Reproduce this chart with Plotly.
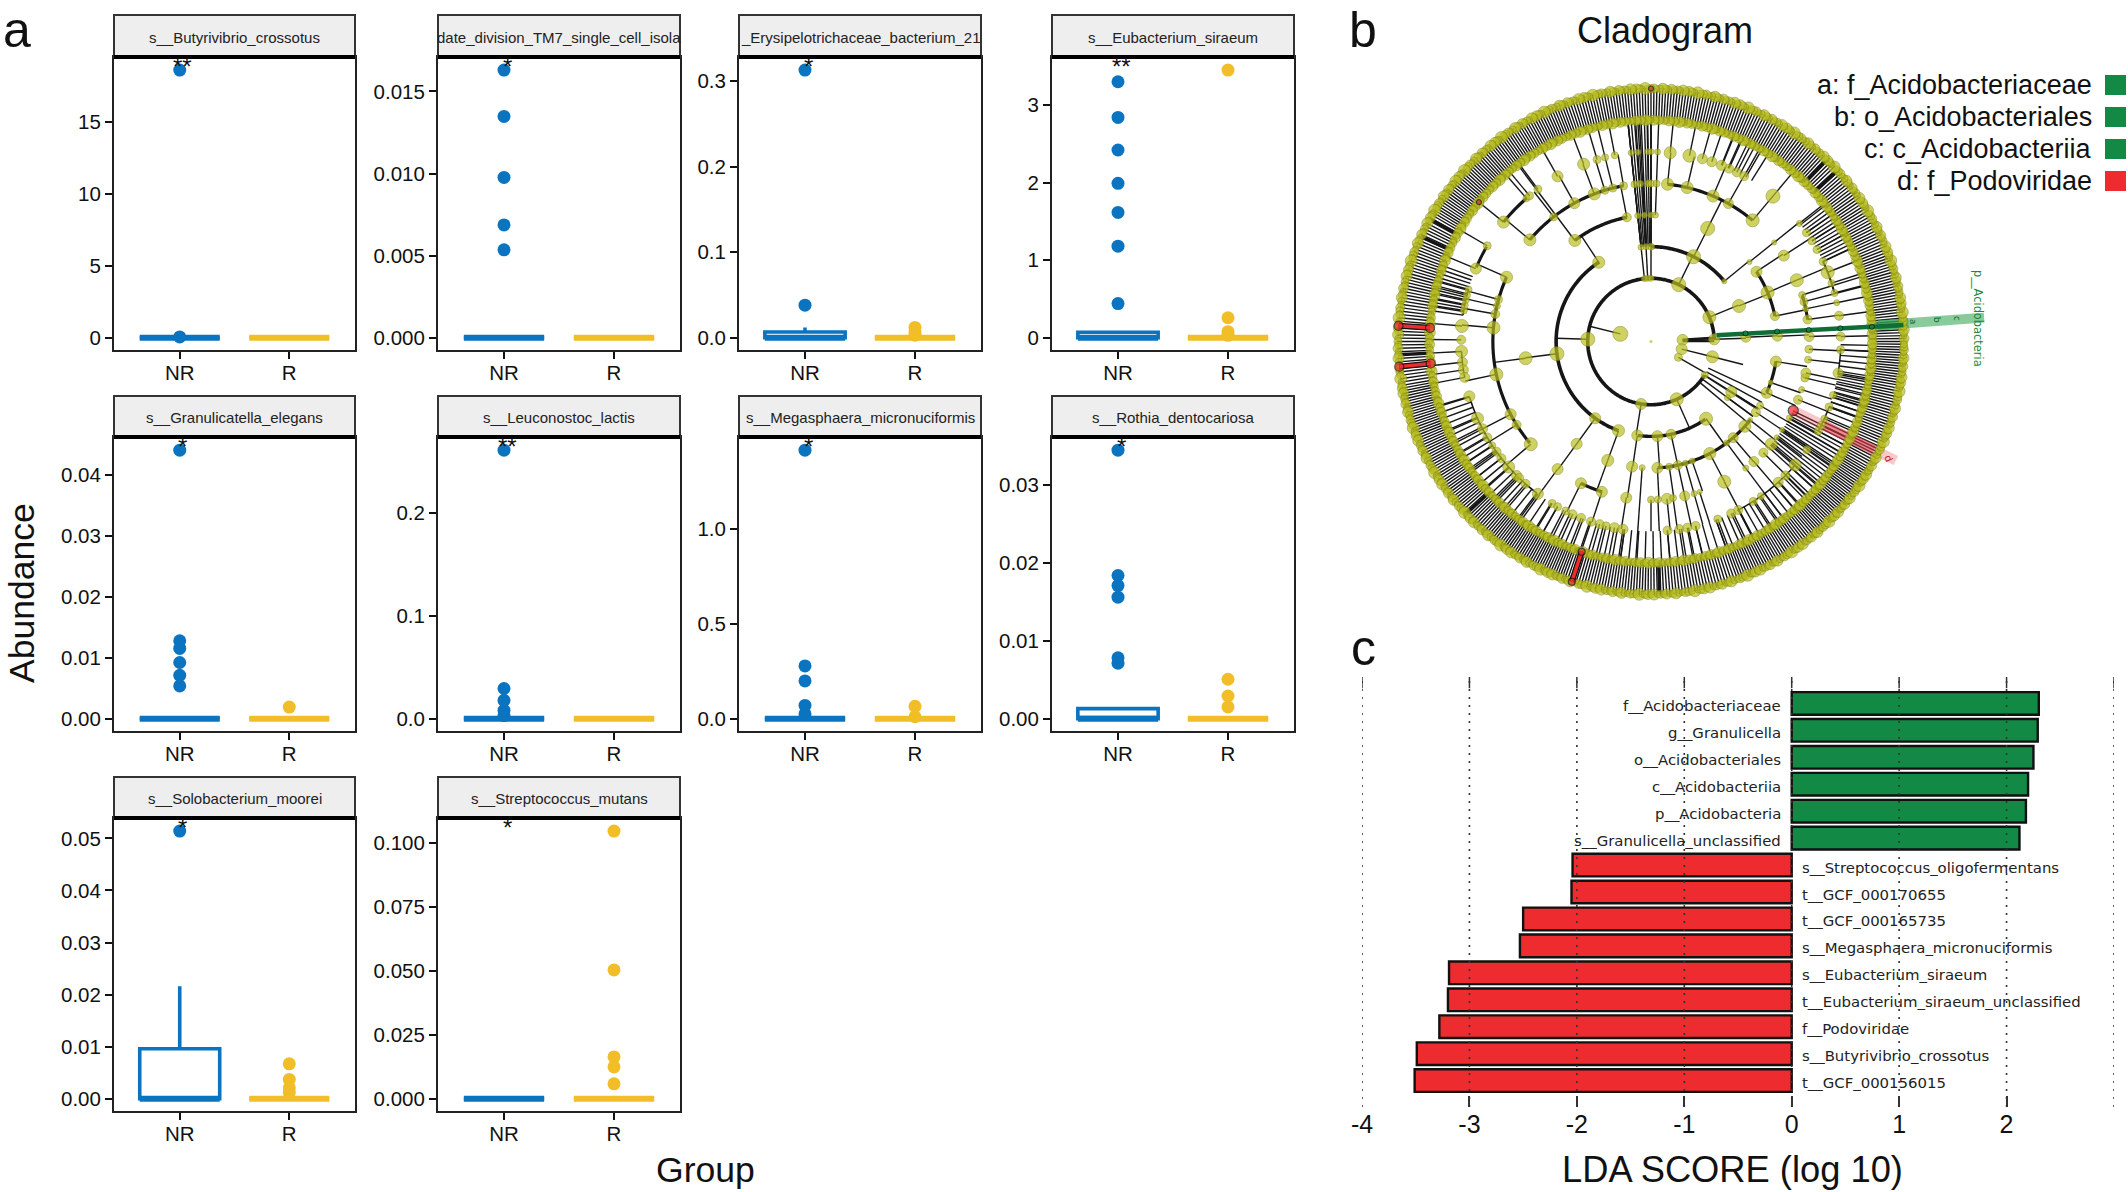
import numpy as np
import plotly.graph_objects as go

W, H = 2128, 1192
BLUE, YEL = "#0A74C0", "#F1BE28"
GREEN, RED = "#128A45", "#EE2B2E"
SANS = "Liberation Sans"

# ---------- panel a ----------
panel_names = ["s__Butyrivibrio_crossotus", "date_division_TM7_single_cell_isola",
               "_Erysipelotrichaceae_bacterium_21", "s__Eubacterium_siraeum",
               "s__Granulicatella_elegans", "s__Leuconostoc_lactis",
               "s__Megasphaera_micronuciformis", "s__Rothia_dentocariosa",
               "s__Solobacterium_moorei", "s__Streptococcus_mutans"]
panel_stars = ["**", "*", "*", "**", "*", "**", "*", "*", "*", "*"]
panel_max = [18.6, 0.0163, 0.313, 3.45, 0.044, 0.261, 1.416, 0.0344, 0.0514, 0.1045]
nr_points = [[18.6, 0.05],
             [0.0163, 0.01348, 0.00976, 0.00687, 0.00535],
             [0.313, 0.038],
             [3.30, 2.84, 2.42, 1.99, 1.615, 1.18, 0.44],
             [0.044, 0.01276, 0.0115, 0.0092, 0.0071, 0.00536],
             [0.261, 0.0293, 0.0178, 0.008, 0.003],
             [1.416, 0.278, 0.199, 0.07, 0.025],
             [0.0344, 0.01834, 0.01705, 0.01556, 0.0078, 0.0071],
             [0.0514],
             []]
r_points = [[], [], [0.012, 0.007, 0.003],
            [3.45, 0.257, 0.077, 0.03],
            [0.0019], [],
            [0.065, 0.01],
            [0.00505, 0.0029, 0.0015],
            [0.0067, 0.0037, 0.0021, 0.0012],
            [0.1045, 0.0503, 0.0163, 0.0124, 0.0058]]
nr_q3 = [0, 0, 0.0066, 0.07, 0, 0, 0, 0.00129, 0.0096, 0]
nr_upper = [0, 0, 0.012, 0.07, 0, 0, 0, 0.00129, 0.0216, 0]
tick_labels = [["0", "5", "10", "15"],
               ["0.000", "0.005", "0.010", "0.015"],
               ["0.0", "0.1", "0.2", "0.3"],
               ["0", "1", "2", "3"],
               ["0.00", "0.01", "0.02", "0.03", "0.04"],
               ["0.0", "0.1", "0.2"],
               ["0.0", "0.5", "1.0"],
               ["0.00", "0.01", "0.02", "0.03"],
               ["0.00", "0.01", "0.02", "0.03", "0.04", "0.05"],
               ["0.000", "0.025", "0.050", "0.075", "0.100"]]
groups = ["NR", "R"]
col_px = [(114, 355), (438, 680), (739, 981), (1052, 1294)]
row_px = [(15, 57, 350), (396, 437, 731), (777, 818, 1111)]

# ---------- panel c ----------
lda_labels = ["f__Acidobacteriaceae", "g__Granulicella", "o__Acidobacteriales", "c__Acidobacteriia",
              "p__Acidobacteria", "s__Granulicella_unclassified", "s__Streptococcus_oligofermentans",
              "t__GCF_000170655", "t__GCF_000165735", "s__Megasphaera_micronuciformis",
              "s__Eubacterium_siraeum", "t__Eubacterium_siraeum_unclassified", "f__Podoviridae",
              "s__Butyrivibrio_crossotus", "t__GCF_000156015"]
lda_values = [2.30, 2.29, 2.25, 2.20, 2.18, 2.12, -2.04, -2.05, -2.50, -2.53, -3.19, -3.20, -3.28, -3.49, -3.51]
lda_ticks = [-4, -3, -2, -1, 0, 1, 2, 3]
lda_tick_labels = ["-4", "-3", "-2", "-1", "0", "1", "2", ""]

# ---------- panel b: cladogram, (angle deg, marker size, ring reached by the outward stem) ----------
L1 = [(166, 14, 2), (3, 10, 2), (-14, 10, 2), (-30, 7, 2)]
L2 = [(178, 13, 3), (96, 5, 7), (93, 5, 7), (90, 5, 7), (261, 10, 3), (294, 12, 3), (328, 6, 4),
      (64, 13, 3), (22.6, 12, 3), (2, 10, 3), (-14, 11, 3)]
L3 = [(123.4, 11, 4), (187.4, 13, 4), (234, 10, 4), (250, 11, 4), (261.7, 10, 4), (273.9, 10, 4),
      (282.2, 9, 4), (305.5, 12, 4), (327.9, 10, 4), (323.7, 5, 4), (90, 6, 4), (93, 5, 4), (96, 5, 4),
      (63.3, 13, 4), (39.4, 4, 4), (22, 12, 4), (2.6, 9, 4)]
L4 = [(127, 11, 7), (101, 8, 5), (96, 5, 5), (93, 5, 5), (90, 5, 5), (88, 5, 5), (187.6, 12, 5), (234, 10, 5),
      (250, 11, 5), (261.4, 10, 5), (266, 5, 7), (272.9, 10, 5), (278.3, 6, 5), (282.3, 8, 5), (285.8, 5, 5),
      (289, 5, 5), (297.7, 11, 5), (306.7, 5, 5), (310.5, 9, 5), (317.9, 11, 5), (321.6, 4, 5), (326, 8, 7),
      (329.6, 6, 7), (336.1, 10, 5), (341.1, 4, 5), (350.9, 10, 5), (63.4, 13, 5), (38.9, 4, 5), (33.5, 10, 5),
      (22.8, 12, 5), (11.6, 8, 5), (2.4, 9, 5)]
L5 = [(140, 11, 6), (128, 7, 6), (119, 10, 6), (111, 11, 6), (107, 7, 6), (104, 7, 6), (100, 7, 6), (96, 6, 6),
      (94, 6, 6), (91, 6, 6), (156, 11, 6), (175, 12, 6), (170, 8, 6), (167, 6, 6), (164.6, 7, 6), (192, 12, 6),
      (207.4, 10, 6), (211.8, 8, 6), (220.5, 12, 6), (233.8, 10, 6), (243.7, 10, 6), (251.9, 10, 6), (261, 10, 6),
      (270, 6, 6), (272.5, 6, 6), (275.8, 10, 6), (278, 6, 6), (282.3, 9, 6), (285.8, 5, 6), (287.9, 4, 6),
      (297.6, 12, 7), (306.8, 5, 7), (310.6, 9, 7), (315.3, 8, 7), (319.5, 11, 6), (322.7, 4, 6), (326, 4, 6),
      (331.1, 5, 6), (338.4, 8, 6), (342.3, 5, 6), (346.7, 7, 6), (348.5, 9, 6), (353.4, 6, 6), (357.2, 7, 6),
      (84, 11, 6), (76.8, 11, 6), (66.9, 11, 6), (60.7, 9, 6), (50, 12, 6), (90, 6, 6), (88, 6, 6), (38.8, 4, 6),
      (32.9, 10, 6), (22.8, 12, 6), (17.1, 6, 7), (14.6, 7, 7), (11.9, 5, 6), (8, 8, 6), (1.8, 9, 6)]
L6_angles = [141, 131, 129.8, 126.6, 157.4, 149.7, 119.5, 110.8, 106.5, 104, 101, 96, 94, 91, 175.3, 179.5, 170.6,
             169, 167.3, 165.9, 164.1, 183, 186.3, 188.6, 190.9, 196.8, 203.9, 207.4, 210.4, 213.2, 215.5, 218,
             221.4, 224.9, 226, 228.6, 233.4, 238.6, 240.5, 243.3, 245.6, 248.4, 251.6, 254.3, 256.3, 258.9, 261.5,
             275, 278.6, 281, 283.6, 290.6, 295, 297.4, 302.6, 305.4, 312.1, 315.1, 319.4, 325.2, 331.8, 333.8,
             336, 339.8, 343.6, 350.4, 357.5, 1.5, 7.8, 11.8, 14.8, 17.9, 21.4, 24.9, 29, 32, 35, 38.5, 60.6, 63.1,
             65.7, 68.2, 71.3, 74.3, 78.3, 84.2, 88, 90, 50]
L6_sizes = [11, 6, 7, 7, 10, 7, 10, 11, 7, 6, 6, 5, 5, 5, 12, 8, 6, 6, 6, 6, 6, 11, 9, 9, 9, 10, 11, 9, 8, 6, 8, 8,
            11, 9, 8, 8, 10, 7, 7, 7, 8, 8, 8, 8, 7, 9, 9, 8, 8, 8, 8, 7, 8, 8, 7, 6, 9, 8, 11, 7, 7, 7, 6, 7, 6,
            9, 7, 8, 8, 5, 6, 6, 12, 7, 7, 7, 7, 5, 8, 8, 8, 9, 9, 9, 12, 11, 5, 5, 13]
arcs = [(2, 2, 328, 3.6), (3, 39, 90, 3.6), (3, 123, 250, 3.6), (3, 262, 305, 3.4), (4, 101, 127, 3.4),
        (4, 11.6, 33.5, 3.2), (4, 273, 322, 3.2), (4, 336, 351, 3.2), (5, 100, 140, 3.2), (5, 50, 84, 3.2),
        (5, 156, 220, 3.2), (5, 243.7, 252, 3.2), (5, 8, 17, 3), (6, 131, 141, 3.2), (6, 150, 157, 3),
        (6, 164, 172, 1.5), (6, 183, 191, 1.5), (6, 197, 233, 1.6), (6, 15, 25, 2), (6, 297, 319, 1.5),
        (6, 332, 340, 1.5), (6, 350, 358, 1.5), (7, 0, 360, 1.2), (8, 0, 360, 1.2)]
# bundles of stems: first angle, last angle, how many, from ring, to ring
stem_bundles = [(25, 38, 14, 6, 7), (160, 172, 12, 6, 7), (197, 215, 12, 6, 7), (216, 233, 10, 6, 7),
                (234, 262, 14, 6, 7), (90, 96, 8, 3, 7), (58, 68, 6, 6, 7), (335, 359, 16, 6, 7),
                (340, 350, 8, 6, 7), (318, 334, 16, 5, 7), (320, 335, 5, 2, 4), (290, 318, 16, 6, 7),
                (262, 290, 14, 6, 7), (0, 4, 4, 1, 2)]
# outer rings: first angle, last angle, how many leaves
leaf_spans = [(0, 20, 30), (20, 45, 36), (45, 70, 38), (70, 90, 30), (90, 110, 30), (110, 130, 32), (130, 150, 32),
              (150, 170, 28), (170, 190, 26), (190, 210, 32), (210, 230, 32), (230, 250, 34), (250, 270, 30),
              (270, 290, 28), (290, 310, 32), (310, 330, 34), (330, 350, 30), (350, 360, 16)]
ring7_sizes = [6, 9, 7, 10, 6, 8, 11, 6, 9, 7, 10, 6, 8]
ring8_sizes = [7, 10, 6, 8, 11, 7, 6, 9, 8, 7, 12, 6, 8, 10, 7, 11, 6, 8]
thick_spots = [(46, 7, 8), (42.5, 7, 8), (151, 7, 8), (155.5, 7, 8), (223, 7, 8), (272, 7, 8), (183, 7, 8)]
red_bars = [(176.45, 9), (185.7, 9), (251.75, 7)]
red_points = [(90, 8, 5), (141, 7, 5), (334.1, 5, 10)]
green_line_r, green_line_t = [0.26, 1.0], [5.5, 3.75]
green_nodes_l = [3, 4, 5, 6, 7]
green_nodes_t = [4.9, 4.5, 4.2, 4.0, 3.8]
legend_lines = ["a: f_Acidobacteriaceae", "b: o_Acidobacteriales", "c: c_Acidobacteriia", "d: f_Podoviridae"]
legend_cols = [GREEN, GREEN, GREEN, RED]

OLIVE, OLEDGE, INK = "#BABF1F", "#858B1C", "#161616"
fig = go.Figure()
shapes, notes = [], []
px = lambda v: v / W
py = lambda v: 1 - v / H


def text(x, y, s, size, color="#111", font=SANS, anchor="center", angle=0):
    notes.append(dict(xref="paper", yref="paper", x=px(x), y=py(y), text=s, showarrow=False, xanchor=anchor,
                      yanchor="middle", textangle=angle, font=dict(size=size, color=color, family=font)))


layout_axes = {}
for i, name in enumerate(panel_names):
    n = "" if i == 0 else str(i + 1)
    r_i, c_i = i // 4, i % 4
    x0, x1 = col_px[c_i]
    s0, s1, b = row_px[r_i]
    M = panel_max[i]
    vals = [float(t) for t in tick_labels[i]]
    xa, ya = f"x{n}", f"y{n}"
    layout_axes[f"xaxis{n}"] = dict(domain=[px(x0), px(x1)], anchor=ya, range=[0.4, 2.6], tickvals=[1, 2],
                                    ticktext=groups, ticks="outside", ticklen=7, tickwidth=2, tickcolor="#111",
                                    showline=True, mirror=True, linewidth=2, linecolor="#222", showgrid=False,
                                    zeroline=False, ticklabelstandoff=-4,
                                    tickfont=dict(size=20.5, family=SANS, color="#111"))
    layout_axes[f"yaxis{n}"] = dict(domain=[py(b), py(s1)], anchor=xa, range=[-0.046 * M, 1.049 * M], tickvals=vals,
                                    ticktext=tick_labels[i], ticks="outside", ticklen=7, tickwidth=2,
                                    tickcolor="#111", showline=True, mirror=True, linewidth=2, linecolor="#222",
                                    showgrid=False, zeroline=False, tickfont=dict(size=20.5, family=SANS, color="#111"))
    for g, col, q3, up, pts in ((1, BLUE, nr_q3[i], nr_upper[i], nr_points[i]), (2, YEL, 0, 0, r_points[i])):
        fig.add_trace(go.Box(x=[g], q1=[0], median=[0], q3=[q3], lowerfence=[0], upperfence=[up], width=0.73,
                             whiskerwidth=0, line=dict(color=col, width=3.6), fillcolor="white", boxpoints=False,
                             xaxis=xa, yaxis=ya, showlegend=False, hoverinfo="skip"))
        fig.add_trace(go.Scatter(x=[g - 0.365, g + 0.365], y=[0, 0], mode="lines", line=dict(color=col, width=6),
                                 xaxis=xa, yaxis=ya, showlegend=False, hoverinfo="skip"))
        if pts:
            fig.add_trace(go.Scatter(x=[g] * len(pts), y=pts, mode="markers", marker=dict(color=col, size=13),
                                     xaxis=xa, yaxis=ya, showlegend=False, hoverinfo="skip"))
    shapes.append(dict(type="rect", xref="paper", yref="paper", x0=px(x0), x1=px(x1), y0=py(s1), y1=py(s0),
                       fillcolor="#EEEEEE", line=dict(color="#333", width=2)))
    shapes.append(dict(type="line", xref="paper", yref="paper", x0=px(x0), x1=px(x1), y0=py(s1), y1=py(s1),
                       line=dict(color="#000", width=4)))
    text((x0 + x1) / 2, (s0 + s1) / 2 + 1, name, 15, "#222")
    notes.append(dict(xref=xa, yref=f"{ya} domain", x=1, xshift=3, y=0.967, text=panel_stars[i], showarrow=False,
                      xanchor="center", yanchor="middle", font=dict(size=24, family=SANS, color="#111")))

# ---------- LDA bars ----------
lda_y = list(range(len(lda_labels)))
lda_col = [GREEN if v > 0 else RED for v in lda_values]
fig.add_trace(go.Bar(y=lda_y, x=lda_values, orientation="h", width=0.84, marker=dict(color=lda_col,
              line=dict(color="#111", width=2.4)), xaxis="x11", yaxis="y11", showlegend=False, hoverinfo="skip"))
layout_axes["xaxis11"] = dict(domain=[px(1362), px(2114)], anchor="y11", range=[-4, 3], tickvals=lda_ticks,
                              ticktext=lda_tick_labels, ticks="inside", ticklen=11, tickwidth=1.5, tickcolor="#333",
                              showline=False, showgrid=False, zeroline=False,
                              tickfont=dict(size=25, family=SANS, color="#111"))
layout_axes["yaxis11"] = dict(domain=[py(1107), py(677)], anchor="x11", range=[14.98, -0.98], visible=False)
for t in lda_ticks:
    shapes.append(dict(type="line", xref="x11", yref="y11 domain", x0=t, x1=t, y0=0, y1=1, layer="above",
                       line=dict(color="#333", width=1.6, dash="2px,6px")))
    shapes.append(dict(type="line", xref="x11", yref="y11 domain", x0=t, x1=t, y0=0.974, y1=1, layer="above",
                       line=dict(color="#333", width=1.5)))
for lab, v, y in zip(lda_labels, lda_values, lda_y):
    notes.append(dict(xref="x11", yref="y11", x=0, y=y, yshift=-2.5, xshift=-9 if v > 0 else 8, text=lab,
                      showarrow=False, xanchor="right" if v > 0 else "left", yanchor="middle",
                      font=dict(size=14.9, family="DejaVu Sans", color="#222")))

# ---------- cladogram ----------
R = lambda level: level / 8
R_PX, CX, CY, R_MAX = 253, 1651, 341.5, 1.33


def polar_lines(segs, width, color=INK, opacity=1.0):
    rr, tt = [], []
    for a, b in segs:
        rr += list(a) + [None]
        tt += list(b) + [None]
    fig.add_trace(go.Scatterpolar(r=rr, theta=tt, mode="lines", line=dict(color=color, width=width), opacity=opacity,
                                  subplot="polar", showlegend=False, hoverinfo="skip"))


def polar_nodes(r, t, sizes, color=OLIVE, edge=OLEDGE, lw=0.8):
    fig.add_trace(go.Scatterpolar(r=r, theta=t, mode="markers", subplot="polar", showlegend=False, hoverinfo="skip",
                                  marker=dict(color=color, size=sizes, line=dict(color=edge, width=lw))))


leaf_angles = np.concatenate([np.linspace(a, b, n, endpoint=False) for a, b, n in leaf_spans])
L6 = [(a, s, 7) for a, s in zip(L6_angles, L6_sizes)]
levels = {1: L1, 2: L2, 3: L3, 4: L4, 5: L5, 6: L6}
stems = [([R(7), R(8)], [float(a), float(a)]) for a in leaf_angles]
stems += [([R(l), R(o)], [a, a]) for l, nodes in levels.items() for a, s, o in nodes]
stems += [([R(f), R(e)], [float(a), float(a)]) for a0, a1, n, f, e in stem_bundles for a in np.linspace(a0, a1, n)]
polar_lines(stems, 1.4)
for lev, a0, a1, w in arcs:
    th = np.linspace(a0, a1, max(int(abs(a1 - a0)), 2) + 1)
    polar_lines([([R(lev)] * len(th), [float(v) for v in th])], w)
polar_lines([([R(a), R(b)], [t, t]) for t, a, b in thick_spots], 3.4)

# highlight bands
polar_lines([([0.9, 1.32], [4.1, 4.1])], 10, "#3DAA5C", 0.6)
polar_lines([([0.875, 1.02], [4.0, 4.0])], 10, "#2F9E50", 0.55)
polar_lines([([R(5), 1.076], [334.1, 334.1])], 10, "#EE4B55", 0.3)
polar_lines([([0.76, 0.98], [334.1, 334.1])], 10, "#D92C3C", 0.4)

leaf_list = [float(a) for a in leaf_angles]
polar_nodes([R(8)] * len(leaf_list), leaf_list, [ring8_sizes[i % len(ring8_sizes)] for i in range(len(leaf_list))])
polar_nodes([R(7)] * len(leaf_list), leaf_list, [ring7_sizes[i % len(ring7_sizes)] for i in range(len(leaf_list))])
for lev, nodes in levels.items():
    polar_nodes([R(lev)] * len(nodes), [a for a, s, o in nodes], [s + 1 for a, s, o in nodes])
polar_nodes([0], [0], [3], OLIVE, OLIVE, 0)

polar_lines([(green_line_r, green_line_t)], 4.5, "#0E6E35")
polar_nodes([R(l) for l in green_nodes_l], green_nodes_t, [5] * 5, GREEN, "#111", 1)
for t, s in red_bars:
    polar_lines([([R(7), R(8)], [t, t])], 6, "#111")
    polar_lines([([R(7), R(8)], [t, t])], 3.5, RED)
    polar_nodes([R(7), R(8)], [t, t], [s, s], RED, "#111", 1.2)
for t, l, s in red_points:
    polar_nodes([R(l)], [t], [s], RED, "#111", 1.2)

# ---------- texts ----------
text(17, 30, "a", 50)
text(1363, 30, "b", 50)
text(1363, 648, "c", 50)
text(22, 593, "Abundance", 35.5, angle=-90)
text(705, 1170, "Group", 35.6)
text(1665, 30, "Cladogram", 36)
text(1732, 1169, "LDA SCORE (log 10)", 36.3)
for s, c, y in zip(legend_lines, legend_cols, [85, 117, 149, 181]):
    text(2094, y, s, 27, anchor="right")
    shapes.append(dict(type="rect", xref="paper", yref="paper", x0=px(2105), x1=px(2126), y0=py(y + 10), y1=py(y - 10),
                       fillcolor=c, line=dict(width=0)))
text(1978, 318, "p__Acidobacteria", 11.4, "#1B8A3C", "DejaVu Sans", angle=90)
for s, x, y in (("a", 1913, 322), ("b", 1937, 320), ("c", 1957, 318)):
    text(x, y, s, 9, "#0E6E35", "DejaVu Sans", angle=88)
text(1889, 458, "d", 10, "#B8222E", "DejaVu Sans", angle=65)

span = R_PX * R_MAX
fig.update_layout(width=W, height=H, margin=dict(l=0, r=0, t=0, b=0, autoexpand=False), paper_bgcolor="white",
                  plot_bgcolor="white", showlegend=False, boxmode="overlay", shapes=shapes, annotations=notes,
                  polar=dict(domain=dict(x=[px(CX - span), px(CX + span)], y=[py(CY + span), py(CY - span)]),
                             radialaxis=dict(visible=False, range=[0, R_MAX]),
                             angularaxis=dict(visible=False, rotation=0, direction="counterclockwise"),
                             bgcolor="rgba(0,0,0,0)"),
                  **layout_axes)
fig.write_html("out.html", config={"displayModeBar": False},
               post_script="document.body.style.margin='0';document.body.style.overflow='hidden';")
